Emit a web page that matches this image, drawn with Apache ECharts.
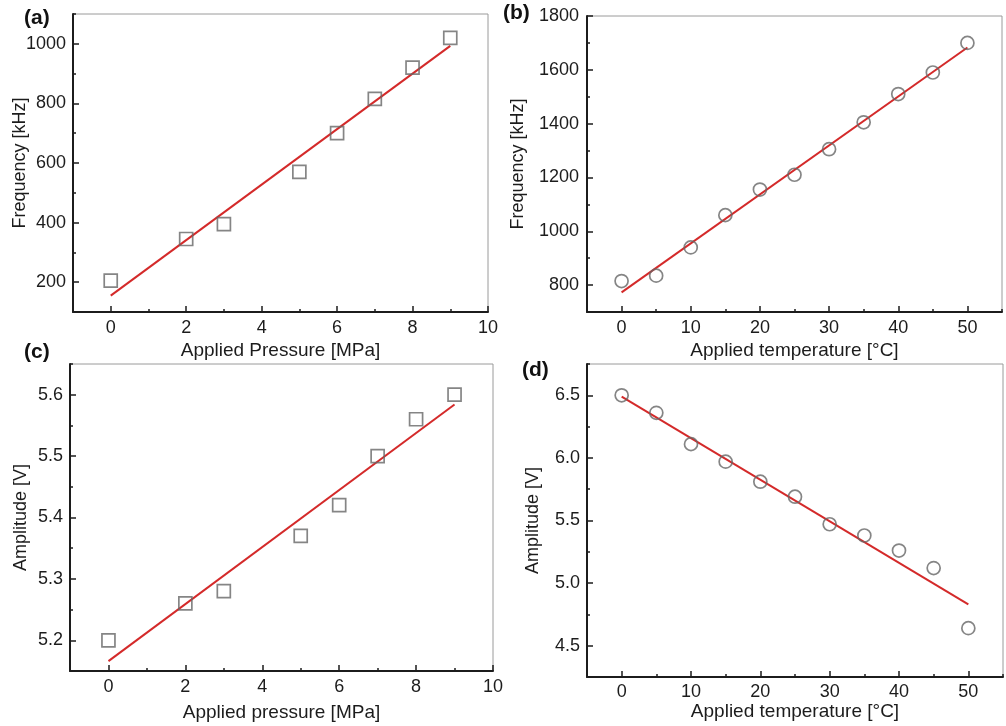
<!DOCTYPE html>
<html>
<head>
<meta charset="utf-8">
<script src="https://cdn.jsdelivr.net/npm/echarts@6/dist/echarts.min.js"></script>
<style>
  html, body { margin: 0; padding: 0; background: #fff; }
  #chart { width: 1006px; height: 726px; }
</style>
</head>
<body>
<div id="chart"></div>
<script>
// values
const pressure = [0, 2, 3, 5, 6, 7, 8, 9];
const freqPressure = [205, 345, 395, 570, 700, 815, 920, 1020];
const ampPressure = [5.20, 5.26, 5.28, 5.37, 5.42, 5.50, 5.56, 5.60];

const temperature = [0, 5, 10, 15, 20, 25, 30, 35, 40, 45, 50];
const freqTemp = [815, 835, 940, 1060, 1155, 1210, 1305, 1405, 1510, 1590, 1700];
const ampTemp = [6.50, 6.36, 6.11, 5.97, 5.81, 5.69, 5.47, 5.38, 5.26, 5.12, 4.64];

// linear fit lines (end points)
const fitA = [[0, 155], [9, 993]];
const fitB = [[0, 773], [50, 1683]];
const fitC = [[0, 5.166], [9, 5.584]];
const fitD = [[0, 6.49], [50, 4.83]];

// major ticks
const majorPressure = [0, 2, 4, 6, 8, 10];
const majorTemp = [0, 10, 20, 30, 40, 50];
const majorFreqA = [200, 400, 600, 800, 1000];
const majorFreqB = [800, 1000, 1200, 1400, 1600, 1800];
const majorAmpC = [5.2, 5.3, 5.4, 5.5, 5.6];
const majorAmpD = [4.5, 5.0, 5.5, 6.0, 6.5];

const textColor = '#1c1c1c';
const font = 'Liberation Sans, Arial, sans-serif';

function onStep(v, step) {
  const r = v / step;
  return Math.abs(r - Math.round(r)) < 1e-6;
}

// main axis: minor ticks + labels + axis name
function mainAxis(grid, opt) {
  return {
    type: 'value',
    gridIndex: grid,
    min: opt.min, max: opt.max, interval: opt.interval,
    position: opt.position,
    name: opt.name,
    nameLocation: 'middle',
    nameGap: opt.nameGap,
    nameMoveOverlap: false,
    nameTextStyle: { color: textColor, fontSize: opt.nameSize, fontFamily: font },
    axisLine: { show: true, onZero: false, lineStyle: { color: '#1c1c1c', width: 2 } },
    axisTick: { show: true, inside: true, length: 3, lineStyle: { color: '#1c1c1c', width: 1.5 } },
    axisLabel: {
      color: textColor, fontSize: 18, fontFamily: font, margin: opt.margin,
      showMinLabel: true, showMaxLabel: true,
      formatter: v => onStep(v, opt.labelStep) ? opt.fmt(v) : ''
    },
    splitLine: { show: false }
  };
}

// overlay axis: only long major ticks
function majorAxis(grid, opt) {
  return {
    type: 'value',
    gridIndex: grid,
    min: opt.min, max: opt.max,
    position: opt.position,
    axisLine: { show: false, onZero: false },
    axisTick: { show: true, inside: true, length: 6, customValues: opt.ticks, lineStyle: { color: '#1c1c1c', width: 1.5 } },
    axisLabel: { show: false },
    splitLine: { show: false }
  };
}

const xPress = { min: -1, max: 10, interval: 1, labelStep: 2, fmt: v => String(Math.round(v)), position: 'bottom', ticks: majorPressure };
const xTemp = { min: -5, max: 55, interval: 5, labelStep: 10, fmt: v => String(Math.round(v)), position: 'bottom', ticks: majorTemp };

const xAxes = [
  Object.assign({}, xPress, { name: 'Applied Pressure [MPa]', nameGap: 29, nameSize: 19, margin: 7 }),
  Object.assign({}, xTemp, { name: 'Applied temperature [°C]', nameGap: 29, nameSize: 19, margin: 7 }),
  Object.assign({}, xPress, { name: 'Applied pressure [MPa]', nameGap: 32, nameSize: 19, margin: 7 }),
  Object.assign({}, xTemp, { name: 'Applied temperature [°C]', nameGap: 25, nameSize: 19, margin: 6 })
];

const yAxes = [
  { min: 100, max: 1100, interval: 100, labelStep: 200, fmt: v => String(Math.round(v)), position: 'left', margin: 7, ticks: majorFreqA, name: 'Frequency [kHz]', nameGap: 44, nameSize: 18 },
  { min: 700, max: 1800, interval: 100, labelStep: 200, fmt: v => String(Math.round(v)), position: 'left', margin: 8, ticks: majorFreqB, name: 'Frequency [kHz]', nameGap: 60, nameSize: 18 },
  { min: 5.15, max: 5.65, interval: 0.05, labelStep: 0.1, fmt: v => v.toFixed(1), position: 'left', margin: 7, ticks: majorAmpC, name: 'Amplitude [V]', nameGap: 40, nameSize: 18 },
  { min: 4.25, max: 6.75, interval: 0.25, labelStep: 0.5, fmt: v => v.toFixed(1), position: 'left', margin: 7, ticks: majorAmpD, name: 'Amplitude [V]', nameGap: 45, nameSize: 18 }
];

const xAxis = [];
const yAxis = [];
for (let i = 0; i < 4; i++) {
  xAxis.push(mainAxis(i, xAxes[i]));
  yAxis.push(mainAxis(i, yAxes[i]));
}
for (let i = 0; i < 4; i++) {
  xAxis.push(majorAxis(i, xAxes[i]));
  yAxis.push(majorAxis(i, yAxes[i]));
}

const gridStyle = { show: true, borderColor: '#9a9a9a', borderWidth: 1, backgroundColor: 'transparent' };
const grid = [
  Object.assign({ left: 73, top: 14, width: 415, height: 298 }, gridStyle),
  Object.assign({ left: 587, top: 16, width: 415, height: 296 }, gridStyle),
  Object.assign({ left: 70, top: 364, width: 423, height: 307 }, gridStyle),
  Object.assign({ left: 587, top: 364, width: 416, height: 313 }, gridStyle)
];

function zip(xs, ys) { return xs.map((x, i) => [x, ys[i]]); }

function points(idx, data, symbol) {
  return {
    type: 'scatter', xAxisIndex: idx, yAxisIndex: idx, data: data,
    symbol: symbol, symbolSize: 13, z: 3,
    itemStyle: { color: 'rgba(255,255,255,0)', borderColor: '#666', borderWidth: 1.7 }
  };
}
function fitLine(idx, data) {
  return {
    type: 'line', xAxisIndex: idx, yAxisIndex: idx, data: data,
    showSymbol: false, symbol: 'none', z: 2,
    lineStyle: { color: '#d42a2a', width: 2 }
  };
}

const panelTitle = (text, left, top) => ({
  text: text, left: left, top: top, padding: 0,
  textStyle: { color: '#111', fontSize: 21, fontWeight: 'bold', fontFamily: font }
});

const chart = echarts.init(document.getElementById('chart'));
chart.setOption({
  backgroundColor: '#fff',
  animation: false,
  title: [
    panelTitle('(a)', 24, 8),
    panelTitle('(b)', 503, 3),
    panelTitle('(c)', 24, 342),
    panelTitle('(d)', 522, 360)
  ],
  grid: grid,
  xAxis: xAxis,
  yAxis: yAxis,
  series: [
    fitLine(0, fitA), points(0, zip(pressure, freqPressure), 'rect'),
    fitLine(1, fitB), points(1, zip(temperature, freqTemp), 'circle'),
    fitLine(2, fitC), points(2, zip(pressure, ampPressure), 'rect'),
    fitLine(3, fitD), points(3, zip(temperature, ampTemp), 'circle')
  ]
});
</script>
</body>
</html>
